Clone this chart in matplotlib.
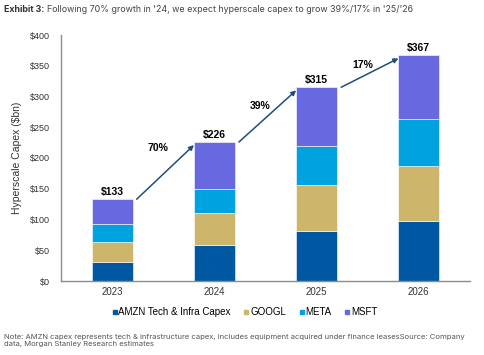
import matplotlib
matplotlib.use("Agg")
import matplotlib.pyplot as plt
from matplotlib.lines import Line2D
import numpy as np

years = ["2023", "2024", "2025", "2026"]
amzn = [31, 58, 81, 97]
googl = [32, 53, 75, 90]
meta = [29, 39, 64, 76]
msft = [41, 76, 95, 104]
totals = ["$133", "$226", "$315", "$367"]
growth = ["70%", "39%", "17%"]
series_names = ["AMZN Tech & Infra Capex", "GOOGL", "META", "MSFT"]
colors = ["#0058a3", "#cdb66c", "#00a3e0", "#6869e0"]

plt.rcParams["font.family"] = ["Liberation Sans", "DejaVu Sans"]

fig = plt.figure(figsize=(4.85, 3.55), dpi=100)
ax = fig.add_axes([61 / 485, 1 - 281 / 355, (470 - 61) / 485, (281 - 35) / 355])

x = np.arange(len(years))
w = 0.4
bottom = np.zeros(len(years))
for vals, c in zip([amzn, googl, meta, msft], colors):
    ax.bar(x, vals, w, bottom=bottom, color=c, edgecolor="white", linewidth=0.4)
    bottom += np.array(vals)

for xi, tot, lab in zip(x, bottom, totals):
    ax.text(xi, tot + 4, lab, ha="center", va="bottom", fontsize=7.5, fontweight="bold")

# flechas de crecimiento
for i, g in enumerate(growth):
    x0, y0 = x[i] + w / 2 + 0.04, bottom[i]
    x1, y1 = x[i + 1] - w / 2, bottom[i + 1] - 5
    ax.annotate("", xy=(x1, y1), xytext=(x0, y0),
                arrowprops=dict(arrowstyle="-|>", color="#1f4e79", lw=1.1,
                                mutation_scale=7, shrinkA=0, shrinkB=0))
    mx, my = (x0 + x1) / 2, (y0 + y1) / 2
    ax.text(mx - 0.07, my + [40, 17, 12][i], g, ha="center", va="center",
            fontsize=7.5, fontweight="bold")

ax.set_xlim(-0.5, 3.5)
ax.set_ylim(0, 400)
ax.set_yticks(range(0, 401, 50))
ax.set_yticklabels([f"${v}" for v in range(0, 401, 50)], fontsize=6.5, color="#333333")
ax.set_xticks(x)
ax.set_xticklabels(years, fontsize=7, color="#333333")
ax.tick_params(length=0, pad=4)
ax.tick_params(axis="y", pad=8)
for s in ["top", "right"]:
    ax.spines[s].set_visible(False)
for s in ["left", "bottom"]:
    ax.spines[s].set_color("#8c8c8c")
    ax.spines[s].set_linewidth(1)
ax.set_ylabel("Hyperscale Capex ($bn)", fontsize=7.5, labelpad=6, color="#333333")

handles = [Line2D([], [], marker="s", ls="none", color=c, markersize=3.5) for c in colors]
fig.legend(handles, series_names, loc="center", bbox_to_anchor=(244.5 / 485, 1 - 312 / 355),
           ncol=4, frameon=False, fontsize=7, handlelength=0.6, handletextpad=0.1,
           columnspacing=1.3, borderpad=0)

# titulo
fuente = ["Inter", "DejaVu Sans"]
t1 = fig.text(4 / 485, 1 - 9 / 355, "Exhibit 3:", fontsize=6.4, fontweight="bold",
              family=fuente, color="#333333", va="center")
fig.canvas.draw()
bb = t1.get_window_extent()
fig.text(bb.x1 / 485 + 0.005, 1 - 9 / 355,
         "Following 70% growth in '24, we expect hyperscale capex to grow 39%/17% in '25/'26",
         fontsize=6.4, family=fuente, color="#444444", va="center")

fig.text(4 / 485, 1 - 340.5 / 355,
         "Note: AMZN capex represents tech & infrastructure capex, includes equipment acquired under finance leasesSource: Company\n"
         "data, Morgan Stanley Research estimates",
         fontsize=5.5, family=fuente, color="#555555", va="center", linespacing=1.2)

fig.savefig("out.png", dpi=100)
